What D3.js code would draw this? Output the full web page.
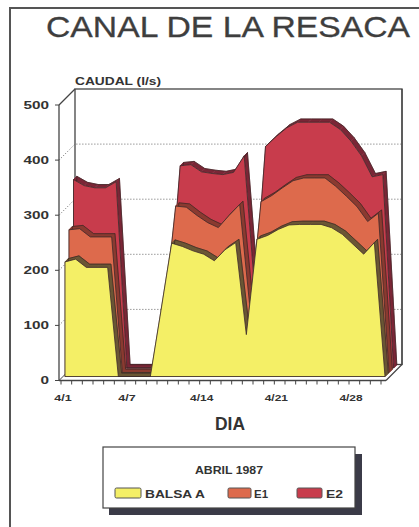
<!DOCTYPE html>
<html>
<head>
<meta charset="utf-8">
<script src="https://cdn.jsdelivr.net/npm/d3@7"></script>
<style>
  html, body { margin: 0; padding: 0; background: #ffffff; }
  svg { display: block; }
  text { font-family: "Liberation Sans", Arial, sans-serif; }
</style>
</head>
<body>
<svg id="chart" width="419" height="527"></svg>
<script>
// Daily flow, Canal de la Resaca, April 1987 (l/s)
const days = ["4/1","4/2","4/3","4/4","4/5","4/6","4/7","4/8","4/9","4/10",
              "4/11","4/12","4/13","4/14","4/15","4/16","4/17","4/18","4/19","4/20",
              "4/21","4/22","4/23","4/24","4/25","4/26","4/27","4/28","4/29","4/30","5/1"];
const balsaA = [208,213,198,198,198,0,0,0,0,120,242,236,228,222,210,230,243,76,249,256,267,275,276,276,276,270,258,240,222,243,0];
const e1     = [51,48,48,48,48,0,0,0,0,0,60,64,57,50,53,55,62,34,61,65,68,73,77,77,77,68,62,61,52,46,0];
const e2     = [83,70,81,81,92,0,0,0,0,0,65,69,71,81,88,70,80,30,92,99,101,98,93,93,93,95,92,84,73,62,0];
const seriesNames = ["BALSA A", "E1", "E2"];
const yTicks = [0, 100, 200, 300, 400, 500];
const xTickLabels = ["4/1", "4/7", "4/14", "4/21", "4/28"];

const faceColors = ["#f4ef66", "#dd6a4c", "#c83c4c"];
const sideColors = ["#6a5634", "#8a3a30", "#7a2636"];
// depth slab (front, back) of each series, in px along the receding axis
const slabs = [[4, 7.3], [8, 11.3], [12.5, 15.8]];
const DEPTH = 16;

const svg = d3.select("#chart");

// outer frame
svg.append("path").attr("d", "M10,527 L10,8 L419,8")
  .attr("fill", "none").attr("stroke", "#555").attr("stroke-width", 2);

// title
svg.append("text").attr("x", 228).attr("y", 37).attr("text-anchor", "middle")
  .attr("font-size", 30).attr("fill", "#3e3e3e").attr("stroke", "#3e3e3e").attr("stroke-width", 0.3)
  .attr("textLength", 364).attr("lengthAdjust", "spacingAndGlyphs")
  .text("CANAL DE LA RESACA");

const x = d3.scalePoint().domain(days).range([61, 381]);
const y = d3.scaleLinear().domain([0, 500]).range([380.5, 105]);
const plotX0 = 59, plotX1 = 386;

// project a (day, value) point at a given depth
const proj = (d, v, z) => [x(d) + z, y(v) - z];

const frame = svg.append("g").attr("stroke", "#444").attr("fill", "none");
// back wall
frame.append("rect").attr("x", plotX0 + DEPTH).attr("y", y(500) - DEPTH)
  .attr("width", plotX1 - plotX0).attr("height", y(0) - y(500))
  .attr("fill", "#fff").attr("stroke-width", 1.3);
// back-wall gridlines and their run across the left wall
yTicks.filter(t => t > 0 && t < 500).forEach(t => {
  frame.append("path")
    .attr("d", `M${plotX0},${y(t)} L${plotX0 + DEPTH},${y(t) - DEPTH} L${plotX1 + DEPTH},${y(t) - DEPTH}`)
    .attr("stroke", "#666").attr("stroke-width", 1).attr("stroke-dasharray", "1,2");
});
// left wall edges
frame.append("path").attr("d", `M${plotX0},${y(500)} L${plotX0 + DEPTH},${y(500) - DEPTH}`).attr("stroke-width", 1.2);
frame.append("path").attr("d", `M${plotX0},${y(0)} L${plotX0 + DEPTH},${y(0) - DEPTH}`).attr("stroke-width", 1);
frame.append("line").attr("x1", plotX0).attr("x2", plotX0).attr("y1", y(500)).attr("y2", y(0)).attr("stroke-width", 1.3);

// stacked values
const table = days.map((d, i) => ({ day: d, "BALSA A": balsaA[i], "E1": e1[i], "E2": e2[i] }));
const stacked = d3.stack().keys(seriesNames)(table);

const layers = svg.append("g");
// draw the back slab first so nearer slabs cover it
for (let k = stacked.length - 1; k >= 0; k--) {
  const s = stacked[k];
  const [zf, zb] = slabs[k];
  const tops = s.map(p => [p.data.day, p[1]]);
  const outline = [[days[0], 0], ...tops, [days[days.length - 1], 0]];
  const front = outline.map(([d, v]) => proj(d, v, zf));
  const back = outline.map(([d, v]) => proj(d, v, zb));
  const g = layers.append("g");
  // top and side faces: sweep every outline edge from front to back
  for (let i = 0; i < front.length; i++) {
    const j = (i + 1) % front.length;
    g.append("path")
      .attr("d", `M${front[i]}L${front[j]}L${back[j]}L${back[i]}Z`)
      .attr("fill", sideColors[k]).attr("stroke", sideColors[k]).attr("stroke-width", 0.6);
  }
  g.append("path").attr("d", d3.line()(back))
    .attr("fill", "none").attr("stroke", "#3a2424").attr("stroke-width", 0.7);
  // front face
  g.append("path").attr("d", d3.line()(front) + "Z")
    .attr("fill", faceColors[k]).attr("stroke", "#3a2a2a").attr("stroke-width", 0.8);
}

// floor front edge (x axis) and right floor edge
const axisG = svg.append("g").attr("stroke", "#444").attr("fill", "none");
axisG.append("line").attr("x1", plotX0).attr("x2", plotX1).attr("y1", y(0)).attr("y2", y(0)).attr("stroke-width", 1.4);
axisG.append("path").attr("d", `M${plotX1},${y(0)} L${plotX1 + DEPTH},${y(0) - DEPTH} L${plotX1 + DEPTH},${y(500) - DEPTH}`).attr("stroke-width", 1.2);

// x ticks, one per day
days.forEach(d => {
  axisG.append("line").attr("x1", x(d)).attr("x2", x(d)).attr("y1", y(0)).attr("y2", y(0) + 4).attr("stroke-width", 1);
});
xTickLabels.forEach(lbl => {
  svg.append("text").attr("x", x(lbl) + 2).attr("y", 401).attr("text-anchor", "middle")
    .attr("font-size", 8.5).attr("font-weight", "bold").attr("fill", "#333")
    .attr("textLength", lbl.length * 5.8).attr("lengthAdjust", "spacingAndGlyphs")
    .text(lbl);
});

// y ticks and labels
yTicks.forEach(t => {
  axisG.append("line").attr("x1", plotX0 - 4).attr("x2", plotX0).attr("y1", y(t)).attr("y2", y(t)).attr("stroke-width", 1);
  const lbl = String(t);
  svg.append("text").attr("x", 49).attr("y", y(t) + 3.5).attr("text-anchor", "end")
    .attr("font-size", 10).attr("font-weight", "bold").attr("fill", "#333")
    .attr("textLength", lbl.length * 8.5).attr("lengthAdjust", "spacingAndGlyphs")
    .text(lbl);
});

// axis titles
svg.append("text").attr("x", 75).attr("y", 85).attr("font-size", 10).attr("font-weight", "bold")
  .attr("fill", "#333").attr("textLength", 86).attr("lengthAdjust", "spacingAndGlyphs")
  .text("CAUDAL (l/s)");
svg.append("text").attr("x", 230).attr("y", 430).attr("text-anchor", "middle")
  .attr("font-size", 18).attr("font-weight", "bold").attr("fill", "#333")
  .attr("textLength", 30).attr("lengthAdjust", "spacingAndGlyphs")
  .text("DIA");

// legend
const lg = svg.append("g");
lg.append("rect").attr("x", 109).attr("y", 454).attr("width", 253).attr("height", 61).attr("fill", "#3b3b48");
lg.append("rect").attr("x", 103).attr("y", 447).attr("width", 252).attr("height", 61)
  .attr("fill", "#fff").attr("stroke", "#444").attr("stroke-width", 1.2);
lg.append("text").attr("x", 229).attr("y", 474).attr("text-anchor", "middle")
  .attr("font-size", 11).attr("font-weight", "bold").attr("fill", "#333")
  .attr("textLength", 68).attr("lengthAdjust", "spacingAndGlyphs")
  .text("ABRIL 1987");
const legendItems = [
  { sx: 115, sw: 26, tx: 145, tw: 60 },
  { sx: 228, sw: 23, tx: 254, tw: 14 },
  { sx: 297, sw: 25, tx: 326, tw: 17 }
];
seriesNames.forEach((name, i) => {
  const it = legendItems[i];
  lg.append("rect").attr("x", it.sx).attr("y", 488).attr("width", it.sw).attr("height", 10).attr("rx", 1.5)
    .attr("fill", faceColors[i]).attr("stroke", "#555").attr("stroke-width", 1);
  lg.append("text").attr("x", it.tx).attr("y", 497.5)
    .attr("font-size", 11).attr("font-weight", "bold").attr("fill", "#333")
    .attr("textLength", it.tw).attr("lengthAdjust", "spacingAndGlyphs")
    .text(name);
});
</script>
</body>
</html>
